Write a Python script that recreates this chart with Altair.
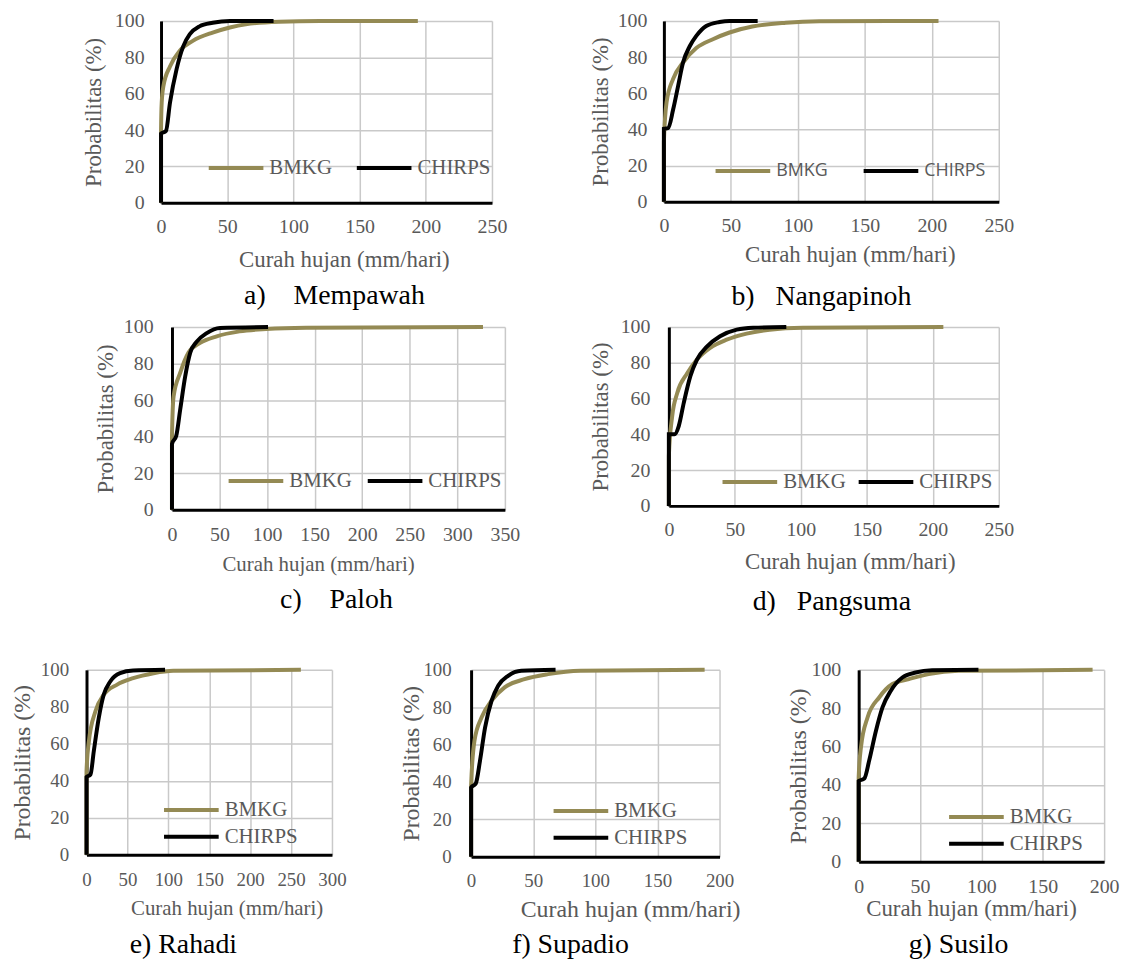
import altair as alt
import pandas as pd

SERIES = ["BMKG", "CHIRPS"]
COLORS = ["#948A54", "#000000"]
Y_TICKS = [0, 20, 40, 60, 80, 100]
X_TITLE = "Curah hujan (mm/hari)"
Y_TITLE = "Probabilitas (%)"

# a) Mempawah
MEMPAWAH_BMKG_X = [0, 0, 0.5, 1.75, 6.75, 14, 24, 39, 52, 64, 89, 120, 194]
MEMPAWAH_BMKG_Y = [0, 40, 55, 64, 75, 83.5, 89, 93.6, 96.4, 98.2, 99.6, 100, 100]
MEMPAWAH_CHIRPS_X = [0, 0, 3.75, 6.75, 11.75, 16.75, 21.75, 29, 39, 52, 85]
MEMPAWAH_CHIRPS_Y = [0, 38, 39.5, 55, 73.5, 86, 92.7, 97, 99, 100, 100]
# b) Nangapinoh
NANGAPINOH_BMKG_X = [0, 0, 2, 6.9, 14.3, 24.2, 36.6, 49, 66, 91, 116, 205]
NANGAPINOH_BMKG_Y = [0, 33, 55, 68, 77, 85, 89.9, 93.6, 96.9, 99, 99.8, 100]
NANGAPINOH_CHIRPS_X = [0, 0, 3.2, 6.9, 10.6, 14.3, 19.3, 24.2, 31.6, 41.5, 49, 70]
NANGAPINOH_CHIRPS_Y = [0, 40.4, 40.7, 51, 64, 77, 86, 91.7, 97.2, 99.4, 100, 100]
# c) Paloh
PALOH_BMKG_X = [0, 0, 1.7, 8.7, 17.4, 29.6, 47, 71, 99, 141, 327]
PALOH_BMKG_Y = [0, 40, 62, 75, 86, 91.3, 94.9, 97.6, 98.9, 99.6, 100]
PALOH_CHIRPS_X = [0, 0, 4.5, 8.7, 13.9, 19.2, 26, 36.6, 50.5, 101]
PALOH_CHIRPS_Y = [0, 36, 40.5, 55, 73, 86, 92, 96.7, 99.5, 100]
# d) Pangsuma
PANGSUMA_BMKG_X = [0, 0, 2.5, 6.3, 13.8, 21.3, 31.3, 43.8, 58.9, 76.4, 101.5, 208]
PANGSUMA_BMKG_Y = [0, 28, 50, 63, 74, 81.8, 88.3, 92.9, 96.3, 98.5, 99.6, 100]
PANGSUMA_CHIRPS_X = [0, 0, 4.3, 7.5, 11.3, 16.3, 21.3, 28.8, 38.8, 51.4, 63.9, 89]
PANGSUMA_CHIRPS_Y = [0, 40, 40, 44.6, 57.6, 72.5, 81.8, 89, 94.8, 98.5, 99.6, 100]
# e) Rahadi
RAHADI_BMKG_X = [0, 0, 2.8, 10.9, 21, 37, 57, 82, 106, 262]
RAHADI_BMKG_Y = [0, 45, 61, 77.6, 86.5, 91.9, 95.5, 98.2, 99.5, 100]
RAHADI_CHIRPS_X = [0, 0, 4.9, 8.9, 15, 21, 29, 41, 57, 96]
RAHADI_CHIRPS_Y = [0, 42, 43.4, 56, 74, 86.5, 93.7, 98.2, 99.6, 100]
# f) Supadio
SUPADIO_BMKG_X = [0, 0, 2.7, 8.5, 16.5, 27, 43, 62, 88, 188]
SUPADIO_BMKG_Y = [0, 38, 62, 74.6, 83.5, 90.6, 95, 97.7, 99.5, 100]
SUPADIO_CHIRPS_X = [0, 0, 3.7, 7.2, 11.2, 16.5, 21.8, 29.8, 40.4, 68]
SUPADIO_CHIRPS_Y = [0, 37, 39, 51.5, 69, 83.5, 91.5, 96.8, 99.5, 100]
# g) Susilo
SUSILO_BMKG_X = [0, 0, 1.9, 7.3, 16.7, 27.5, 41, 57, 81.4, 190.6]
SUSILO_BMKG_Y = [0, 44, 59.7, 75.3, 85.6, 92.6, 95.2, 97.8, 99.5, 100]
SUSILO_CHIRPS_X = [0, 0, 4.6, 8.6, 14, 19.4, 26.1, 35.6, 46.4, 59.8, 97.6]
SUSILO_CHIRPS_Y = [0, 42, 43.3, 52.8, 68, 80.4, 89, 96, 98.6, 99.8, 100]

NBSP = "\u00a0"
SERIF = "Liberation Serif"
GREY = "#595959"


def make_df(bx, by, cx, cy):
    rows = []
    for name, xs, ys in (("BMKG", bx, by), ("CHIRPS", cx, cy)):
        for i, (x, y) in enumerate(zip(xs, ys)):
            rows.append({"series": name, "hujan": x, "prob": y, "idx": i})
    return pd.DataFrame(rows)


def panel(c):
    df = make_df(*c["data"])
    xmax = c["xmax"]
    legend = alt.Legend(
        title=None, orient="none", legendX=c["lx"], legendY=c["ly"],
        direction=c["ldir"], symbolType="stroke", symbolSize=3025,
        symbolStrokeWidth=4, labelFont=c.get("lfont", SERIF),
        labelFontSize=c.get("lsize", 21), labelColor=GREY, labelOffset=4,
        clipHeight=22, columnPadding=c.get("lcol", 20), rowPadding=5, padding=0,
    )
    xaxis = alt.Axis(
        values=list(range(0, xmax + 1, 50)), title=X_TITLE, grid=True,
        gridColor="#C9C9C9", gridWidth=1.5, domainColor="#000000", domainWidth=3,
        ticks=False, tickSize=0, labelFont=SERIF, labelFontSize=c["tick"],
        labelColor=GREY, labelPadding=c["xlp"], labelFlush=False, labelOverlap=False,
        titleFont=SERIF, titleFontSize=c["xts"], titleFontWeight="normal",
        titleColor=GREY, titleX=c["xtx"], titleY=c["xty"], titleBaseline="middle",
    )
    yaxis = alt.Axis(
        values=Y_TICKS, title=Y_TITLE, grid=True,
        gridColor="#C9C9C9", gridWidth=1.5, domainColor="#000000", domainWidth=3,
        ticks=False, tickSize=0, labelFont=SERIF, labelFontSize=c["tick"],
        labelColor=GREY, labelPadding=c["ylp"], labelFlush=False,
        titleFont=SERIF, titleFontSize=c["yts"], titleFontWeight="normal",
        titleColor=GREY, titleX=c["ytx"], titleBaseline="middle",
    )
    return alt.Chart(df).mark_line(strokeWidth=4, interpolate="monotone").encode(
        x=alt.X("hujan:Q", scale=alt.Scale(domain=[0, xmax], nice=False), axis=xaxis),
        y=alt.Y("prob:Q", scale=alt.Scale(domain=[0, 100], nice=False), axis=yaxis),
        color=alt.Color("series:N", scale=alt.Scale(domain=SERIES, range=COLORS), legend=legend),
        order=alt.Order("idx:Q"),
    ).properties(
        width=c["w"], height=c["h"],
        title=alt.TitleParams(
            text=c["cap"], orient="bottom", anchor="middle", frame="group",
            offset=c["toff"], dx=c["tdx"], font=SERIF, fontSize=28,
            fontWeight="normal", color="#000000",
        ),
    )


def spacer(w, h=1):
    return alt.Chart(pd.DataFrame({"v": [0]})).mark_point(opacity=0, size=1).encode(
        x=alt.value(0), y=alt.value(0)
    ).properties(width=w, height=h)


def row(*items):
    return alt.hconcat(*items, spacing=0, bounds="flush").resolve_scale(
        color="independent", x="independent", y="independent"
    ).resolve_legend(color="independent")


P = {
    "a": dict(data=(MEMPAWAH_BMKG_X, MEMPAWAH_BMKG_Y, MEMPAWAH_CHIRPS_X, MEMPAWAH_CHIRPS_Y),
              xmax=250, w=333, h=183, tick=20, xlp=14, ylp=17, xts=23, yts=23,
              xtx=184, xty=57, ytx=-68, lx=46, ly=137, ldir="horizontal", lcol=22,
              cap="a)" + NBSP * 4 + "Mempawah", toff=11, tdx=8),
    "b": dict(data=(NANGAPINOH_BMKG_X, NANGAPINOH_BMKG_Y, NANGAPINOH_CHIRPS_X, NANGAPINOH_CHIRPS_Y),
              xmax=250, w=337, h=182, tick=20, xlp=14, ylp=17, xts=23, yts=23,
              xtx=187, xty=53, ytx=-64, lx=50, ly=140, ldir="horizontal", lcol=34,
              lfont="Open Sans", lsize=18,
              cap="b)" + NBSP * 3 + "Nangapinoh", toff=17, tdx=-10),
    "c": dict(data=(PALOH_BMKG_X, PALOH_BMKG_Y, PALOH_CHIRPS_X, PALOH_CHIRPS_Y),
              xmax=350, w=335, h=184, tick=20, xlp=15, ylp=19, xts=21, yts=23,
              xtx=147, xty=55, ytx=-67, lx=55, ly=144, ldir="horizontal", lcol=13,
              cap="c)" + NBSP * 4 + "Paloh", toff=12, tdx=-2),
    "d": dict(data=(PANGSUMA_BMKG_X, PANGSUMA_BMKG_Y, PANGSUMA_CHIRPS_X, PANGSUMA_CHIRPS_Y),
              xmax=250, w=332, h=180, tick=20, xlp=14, ylp=19, xts=23, yts=23,
              xtx=182, xty=56, ytx=-69, lx=52, ly=145, ldir="horizontal", lcol=10,
              cap="d)" + NBSP * 3 + "Pangsuma", toff=15, tdx=-2),
    "e": dict(data=(RAHADI_BMKG_X, RAHADI_BMKG_Y, RAHADI_CHIRPS_X, RAHADI_CHIRPS_Y),
              xmax=300, w=247, h=186, tick=19, xlp=16, ylp=18, xts=21, yts=24,
              xtx=141, xty=54, ytx=-64, lx=76, ly=130, ldir="vertical",
              cap="e) Rahadi", toff=13, tdx=-26),
    "f": dict(data=(SUPADIO_BMKG_X, SUPADIO_BMKG_Y, SUPADIO_CHIRPS_X, SUPADIO_CHIRPS_Y),
              xmax=200, w=250, h=188, tick=19, xlp=15, ylp=20, xts=24, yts=24,
              xtx=160, xty=53, ytx=-60, lx=81, ly=131, ldir="vertical",
              cap="f) Supadio", toff=10, tdx=-25),
    "g": dict(data=(SUSILO_BMKG_X, SUSILO_BMKG_Y, SUSILO_CHIRPS_X, SUSILO_CHIRPS_Y),
              xmax=200, w=247, h=193, tick=20, xlp=15, ylp=18, xts=23, yts=24,
              xtx=113, xty=47, ytx=-60, lx=89, ly=137, ldir="vertical",
              cap="g) Susilo", toff=11, tdx=-23),
}

row1 = row(spacer(153), panel(P["a"]), spacer(173), panel(P["b"]))
row2 = row(spacer(164), panel(P["c"]), spacer(165), panel(P["d"]))
row3 = row(spacer(78), panel(P["e"]), spacer(140), panel(P["f"]), spacer(140), panel(P["g"]))

chart = alt.vconcat(row1, row2, spacer(10, 31), row3, spacing=6).resolve_scale(
    color="independent", x="independent", y="independent"
).resolve_legend(color="independent").properties(
    padding={"left": 0, "top": 0, "right": 5, "bottom": 5},
    background="white",
).configure_view(stroke=None)

chart.save("out.html", embed_options={"renderer": "svg", "actions": False})
